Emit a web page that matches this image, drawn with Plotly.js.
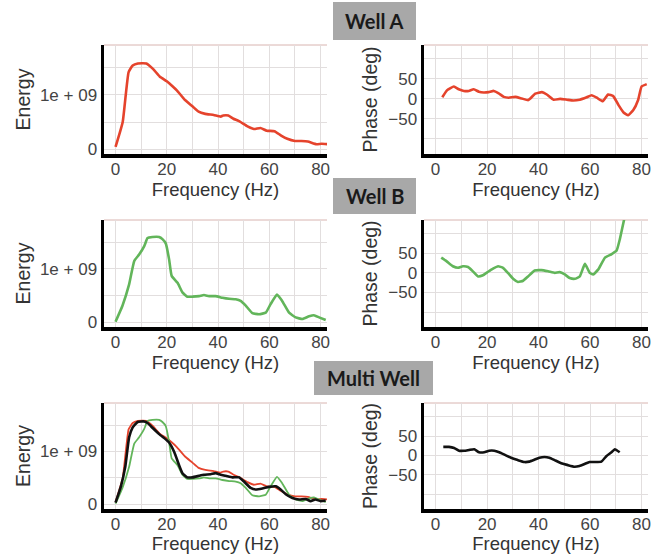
<!DOCTYPE html>
<html>
<head>
<meta charset="utf-8">
<script src="https://cdn.plot.ly/plotly-3.0.1.min.js"></script>
<style>html,body{margin:0;padding:0;background:#fff;}#chart{width:657px;height:554px;}</style>
</head>
<body>
<div id="chart"></div>
<script>
// ---- Data ----
const panelLabels = ["Well A", "Well B", "Multi Well"];
const xTickVals = [0, 20, 40, 60, 80];
const energyTickVals = [0, 1e9];
const energyTickText = ["0", "1e + 09"];
const phaseTickVals = [-50, 0, 50];
const phaseTickText = ["\u221250", "0", "50"];

// Well A energy
const wellAEnergyFreq = [0, 2.8, 5.1, 6.7, 8.7, 12, 14.6, 17.2, 20, 22, 24, 27, 30, 32.4, 35, 38.3, 41, 42, 44, 46, 48, 51.5, 54, 56.5, 59, 62, 64.6, 67, 70, 72.5, 75, 78.4, 80.4, 83];
const wellAEnergy = [0.04e9, 0.50e9, 1.42e9, 1.54e9, 1.58e9, 1.58e9, 1.48e9, 1.34e9, 1.25e9, 1.17e9, 1.08e9, 0.91e9, 0.79e9, 0.69e9, 0.65e9, 0.63e9, 0.60e9, 0.62e9, 0.62e9, 0.56e9, 0.52e9, 0.42e9, 0.37e9, 0.39e9, 0.34e9, 0.33e9, 0.25e9, 0.19e9, 0.15e9, 0.15e9, 0.14e9, 0.09e9, 0.10e9, 0.09e9];

// Well A phase
const wellAPhaseFreq = [2.6, 4.5, 7.1, 9, 11, 12.9, 14.8, 16.8, 18.7, 20.6, 22.6, 24.5, 26.5, 28.4, 31, 33.5, 36, 38.7, 41.3, 43.2, 45.8, 48.4, 51, 53.5, 56, 58.7, 60.6, 62.6, 64.9, 67, 69, 71, 73, 74.8, 76.8, 78.7, 80, 82];
const wellAPhase = [4, 22, 31, 24, 20, 20, 24, 18, 16, 17, 20, 14, 5, 3, 5, 1, -3, 13, 17, 11, -2, 0, -2, -4, -2, 4, 9, 3, -6, 11, 7, -15, -34, -41, -28, -2, 31, 37];

// Well B energy
const wellBEnergyFreq = [0, 2.7, 5.3, 7.3, 9.2, 11.2, 12.5, 14.4, 17, 18.3, 19.6, 20.9, 21.9, 24.2, 26.1, 28, 30, 32.6, 34.5, 36.5, 39, 41.7, 44.3, 46.9, 48.8, 50.8, 53.4, 56, 58.6, 60.5, 63, 65, 67.7, 70.3, 72.9, 75.5, 77.4, 79.4, 82];
const wellBEnergy = [0.01e9, 0.31e9, 0.71e9, 1.15e9, 1.27e9, 1.43e9, 1.58e9, 1.60e9, 1.60e9, 1.56e9, 1.48e9, 1.18e9, 0.87e9, 0.74e9, 0.56e9, 0.48e9, 0.48e9, 0.49e9, 0.51e9, 0.49e9, 0.49e9, 0.46e9, 0.44e9, 0.43e9, 0.40e9, 0.31e9, 0.17e9, 0.15e9, 0.18e9, 0.34e9, 0.52e9, 0.40e9, 0.18e9, 0.09e9, 0.06e9, 0.11e9, 0.13e9, 0.09e9, 0.04e9];

// Well B phase
const wellBPhaseFreq = [2.2, 4.2, 6.7, 8.7, 10.6, 12.6, 14.5, 16.5, 18.4, 20.4, 22.3, 24.3, 26.2, 28.1, 30.1, 32, 34, 35.9, 38.5, 41.1, 43.7, 46.3, 48.2, 50.2, 52.1, 54.1, 56, 58, 59.9, 61.2, 63.2, 65.8, 68.4, 70.3, 71.6, 73.5, 75];
const wellBPhase = [39, 30, 17, 13, 17, 15, 4, -9, -6, 3, 11, 17, 13, 0, -15, -23, -20, -9, 6, 7, 4, 0, 2, -4, -13, -15, -9, 23, 0, -4, 9, 39, 48, 57, 87, 144, 175];

// Multi well energy
const multiEnergyFreq = [0, 2.1, 3.8, 5.3, 6.6, 8.6, 11.2, 12.5, 14.4, 17, 19.6, 20.9, 22.9, 24.8, 26.1, 28, 30, 32.6, 34.5, 37.1, 39, 41, 43, 45.6, 48.2, 50.1, 52.7, 54.7, 57.3, 59.9, 62.5, 64.4, 66.4, 69, 71.6, 74.2, 76.1, 78, 80, 82];
const multiEnergy = [0.03e9, 0.34e9, 0.71e9, 1.27e9, 1.45e9, 1.56e9, 1.57e9, 1.54e9, 1.45e9, 1.33e9, 1.23e9, 1.17e9, 0.99e9, 0.74e9, 0.59e9, 0.51e9, 0.51e9, 0.54e9, 0.56e9, 0.57e9, 0.59e9, 0.56e9, 0.54e9, 0.51e9, 0.51e9, 0.43e9, 0.31e9, 0.28e9, 0.30e9, 0.33e9, 0.34e9, 0.28e9, 0.19e9, 0.12e9, 0.09e9, 0.10e9, 0.06e9, 0.09e9, 0.06e9, 0.07e9];

// Multi well phase
const multiPhaseFreq = [3, 5.2, 7.2, 9.1, 11.1, 13, 15, 16.9, 18.9, 20.8, 22.8, 24.7, 26.7, 29.3, 31.9, 34.5, 36.4, 38.4, 40.3, 42.3, 44.2, 46.2, 48.8, 51.4, 54, 55.9, 57.9, 59.8, 61.8, 64.4, 66.3, 68.3, 69.6, 71.5];
const multiPhase = [22, 22, 19, 12, 12, 14, 16, 8, 8, 12, 12, 8, 2, -6, -12, -17, -16, -11, -6, -4, -6, -12, -20, -25, -29, -27, -22, -17, -17, -16, -2, 8, 16, 8];

// ---- Styles ----
const RED = "#e5432c", GREEN = "#62b55a", BLACK = "#111111";
const FONT = "'Liberation Sans', Arial, sans-serif";
const GRID = "#e2dede";

function line(x, y, color, xa, ya, w) {
  return {x: x, y: y, xaxis: xa, yaxis: ya, type: "scatter", mode: "lines",
          line: {color: color, width: w || 2.6, shape: "spline", smoothing: 0.4}, hoverinfo: "skip"};
}

const data = [
  line(wellAEnergyFreq, wellAEnergy, RED, "x", "y"),
  line(wellAPhaseFreq, wellAPhase, RED, "x2", "y2"),
  line(wellBEnergyFreq, wellBEnergy, GREEN, "x3", "y3"),
  line(wellBPhaseFreq, wellBPhase, GREEN, "x4", "y4"),
  line(wellAEnergyFreq, wellAEnergy, RED, "x5", "y5", 1.8),
  line(wellBEnergyFreq, wellBEnergy, GREEN, "x5", "y5", 1.8),
  line(multiEnergyFreq, multiEnergy, BLACK, "x5", "y5", 2.6),
  line(multiPhaseFreq, multiPhase, BLACK, "x6", "y6")
];

const colDom = [[104/657, 327/657], [424/657, 648/657]];
const rowPx = [[45, 154], [220, 327], [403, 509]];
const rowDom = rowPx.map(r => [(554 - r[1]) / 554, (554 - r[0]) / 554]);

function xAxis(dom, anchor) {
  return {domain: dom, anchor: anchor, range: [-4.5, 82.5],
    tickvals: xTickVals, ticks: "", ticklabelstandoff: -3,
    showline: true, linecolor: "#000", linewidth: 3.5,
    showgrid: true, gridcolor: GRID, gridwidth: 1, zeroline: false,
    minor: {dtick: 10, tick0: 0, showgrid: true, gridcolor: GRID, ticks: ""},
    tickfont: {family: FONT, size: 17, color: "#444"},
    title: {text: "Frequency (Hz)", font: {family: FONT, size: 18.5, color: "#333"}, standoff: 6},
    fixedrange: true};
}
function energyAxis(dom, anchor) {
  return {domain: dom, anchor: anchor, range: [-0.09e9, 1.92e9],
    tickvals: energyTickVals, ticktext: energyTickText, ticks: "",
    showline: true, linecolor: "#000", linewidth: 3.5,
    showgrid: true, gridcolor: GRID, zeroline: false,
    minor: {dtick: 0.5e9, tick0: 0, showgrid: true, gridcolor: GRID, ticks: ""},
    tickfont: {family: FONT, size: 17, color: "#444"},
    title: {text: "Energy", font: {family: FONT, size: 19.5, color: "#333"}, standoff: 5},
    fixedrange: true};
}
function phaseAxis(dom, anchor) {
  return {domain: dom, anchor: anchor, range: [-138, 135],
    tickvals: phaseTickVals, ticktext: phaseTickText, ticks: "",
    showline: true, linecolor: "#000", linewidth: 3.5,
    showgrid: true, gridcolor: GRID, zeroline: false,
    minor: {dtick: 50, tick0: 0, showgrid: true, gridcolor: GRID, ticks: ""},
    tickfont: {family: FONT, size: 17, color: "#444"},
    title: {text: "Phase (deg)", font: {family: FONT, size: 19.5, color: "#333"}, standoff: 6},
    fixedrange: true};
}

const layout = {
  width: 657, height: 554, margin: {l: 0, r: 0, t: 0, b: 0},
  paper_bgcolor: "#fff", plot_bgcolor: "#fff", showlegend: false,
  xaxis: xAxis(colDom[0], "y"), yaxis: energyAxis(rowDom[0], "x"),
  xaxis2: xAxis(colDom[1], "y2"), yaxis2: phaseAxis(rowDom[0], "x2"),
  xaxis3: xAxis(colDom[0], "y3"), yaxis3: energyAxis(rowDom[1], "x3"),
  xaxis4: xAxis(colDom[1], "y4"), yaxis4: phaseAxis(rowDom[1], "x4"),
  xaxis5: xAxis(colDom[0], "y5"), yaxis5: energyAxis(rowDom[2], "x5"),
  xaxis6: xAxis(colDom[1], "y6"), yaxis6: phaseAxis(rowDom[2], "x6"),
  shapes: [], annotations: []
};

// top border lines (pinkish) of each panel
const axisPairs = [["x","y"],["x2","y2"],["x3","y3"],["x4","y4"],["x5","y5"],["x6","y6"]];
axisPairs.forEach(p => {
  layout.shapes.push({type: "line", xref: p[0] + " domain", yref: p[1] + " domain",
    x0: 0, x1: 1, y0: 1, y1: 1, line: {color: "#d8b4b0", width: 1}, layer: "below"});
});

// gray label boxes
const boxPx = [[333, 416, 2, 40], [333, 416, 178, 214], [314, 433, 361, 395]];
panelLabels.forEach((t, i) => {
  const b = boxPx[i];
  layout.shapes.push({type: "rect", xref: "paper", yref: "paper",
    x0: b[0] / 657, x1: b[1] / 657, y0: (554 - b[3]) / 554, y1: (554 - b[2]) / 554,
    fillcolor: "#a8a8a8", line: {width: 0}, layer: "above"});
  layout.annotations.push({text: "<b>" + t + "</b>", xref: "paper", yref: "paper",
    x: (b[0] + b[1]) / 2 / 657, y: (554 - (b[2] + b[3]) / 2) / 554,
    xanchor: "center", yanchor: "middle", showarrow: false,
    font: {family: "Lato, 'Liberation Sans', sans-serif", size: 20, color: "#1a1a1a"}});
});

Plotly.newPlot("chart", data, layout, {staticPlot: true, displayModeBar: false});
</script>
</body>
</html>
